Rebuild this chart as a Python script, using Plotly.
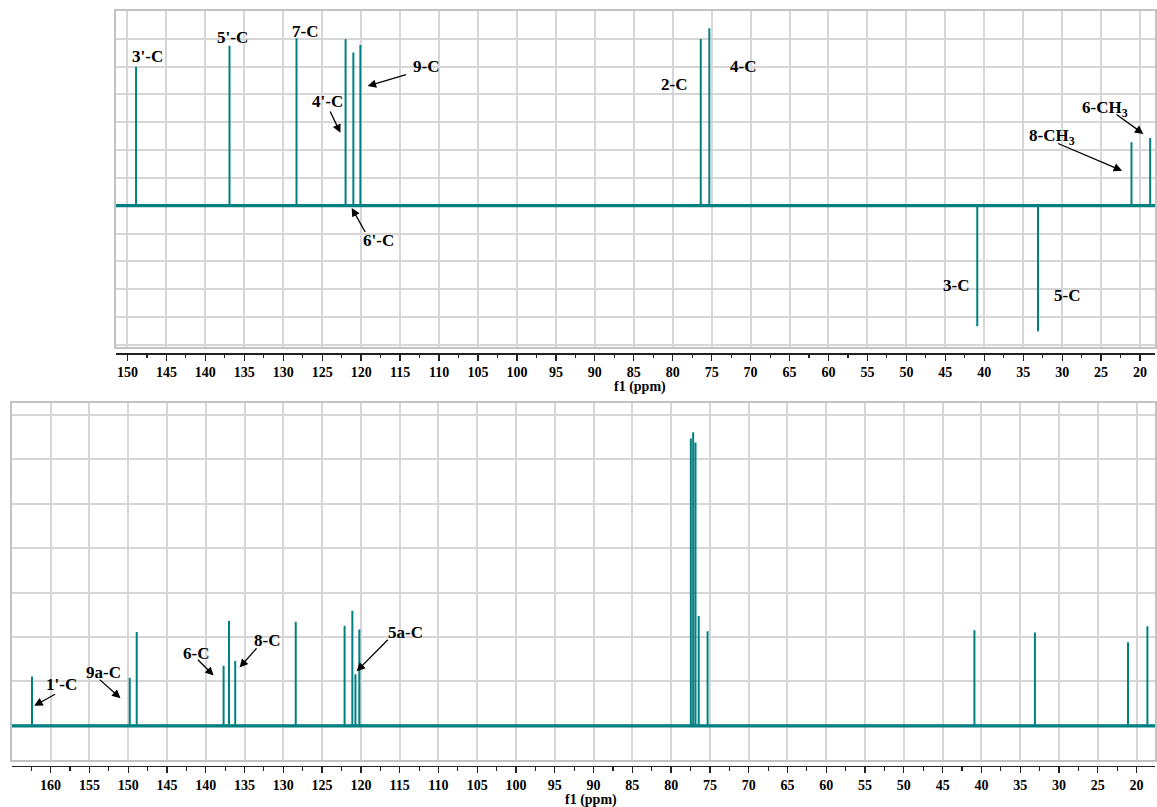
import plotly.graph_objects as go

# ---------------- data ----------------
# Top spectrum (DEPT-135): peak positions (ppm) and intensities (grid units)
dept_ppm = [148.9, 136.9, 128.3, 122.0, 121.0, 120.1, 76.4, 75.3, 40.9, 33.1, 21.1, 18.7]
dept_int = [5.00, 5.75, 6.02, 5.98, 5.51, 5.78, 5.99, 6.38, -4.33, -4.51, 2.28, 2.43]

# Bottom spectrum (13C): peak positions (ppm) and intensities (grid units)
c13_ppm = [162.4, 149.8, 148.9, 137.7, 137.0, 136.2, 128.4, 122.1, 121.1, 120.7, 120.2,
           77.46, 77.16, 76.86, 76.45, 75.3, 40.9, 33.1, 21.1, 18.6]
c13_int = [1.11, 1.08, 2.11, 1.35, 2.36, 1.46, 2.34, 2.25, 2.59, 1.16, 2.17,
           6.47, 6.61, 6.38, 2.47, 2.13, 2.15, 2.10, 1.88, 2.24]

# Tick labels
top_ticks = list(range(150, 19, -5))
bot_ticks = list(range(160, 19, -5))
top_minor = [t + 2.5 for t in range(150, 14, -5)]
bot_minor = [t + 2.5 for t in range(160, 14, -5)]

# Peak assignment labels: (text, label ppm, label y)
dept_labels = [("3'-C", 147.49, 5.36), ("5'-C", 136.47, 6.04), ("7-C", 127.21, 6.26),
               ("4'-C", 124.37, 3.76), ("9-C", 111.68, 5.0), ("6'-C", 117.79, -1.26),
               ("2-C", 79.81, 4.37), ("4-C", 70.93, 5.02),
               ("6-CH<sub>3</sub>", 24.48, 3.46), ("8-CH<sub>3</sub>", 31.33, 2.46),
               ("3-C", 43.64, -2.86), ("5-C", 29.35, -3.22)]
# Arrows: (tail ppm, tail y, head ppm, head y)
dept_arrows = [(124.07, 3.44, 122.66, 2.62), (114.04, 4.73, 119.16, 4.30),
               (119.37, -1.0, 121.21, -0.08), (23.21, 3.32, 19.57, 2.58),
               (30.72, 2.26, 22.30, 1.26)]

c13_labels = [("1'-C", 158.55, 0.94), ("9a-C", 153.23, 1.21), ("6-C", 141.30, 1.63),
              ("8-C", 132.12, 1.92), ("5a-C", 114.27, 2.11)]
c13_arrows = [(159.23, 0.73, 162.11, 0.45), (153.87, 1.07, 150.99, 0.62),
              (141.21, 1.52, 138.98, 1.13), (133.28, 1.78, 135.64, 1.31),
              (116.33, 1.97, 120.54, 1.23)]

# ---------------- helpers ----------------
TEAL = "#008080"
W, H = 1157, 807
FONT = "Liberation Serif"


def sticks(ppm, inten, left, right):
    xs, ys = [left], [0]
    for p, h in sorted(zip(ppm, inten), reverse=True):
        xs += [p, p, p]
        ys += [0, h, 0]
    xs.append(right)
    ys.append(0)
    return xs, ys


top_range = [151.5, 18.08]
bot_range = [165.02, 17.62]

fig = go.Figure()

# baselines (thicker to mimic noise band)
fig.add_trace(go.Scatter(x=top_range, y=[0, 0], mode="lines", xaxis="x", yaxis="y",
                         line=dict(color=TEAL, width=3.2), hoverinfo="skip", showlegend=False))
fig.add_trace(go.Scatter(x=bot_range, y=[0, 0], mode="lines", xaxis="x2", yaxis="y2",
                         line=dict(color=TEAL, width=3.2), hoverinfo="skip", showlegend=False))

tx, ty = sticks(dept_ppm, dept_int, top_range[0], top_range[1])
fig.add_trace(go.Scatter(x=tx, y=ty, mode="lines", xaxis="x", yaxis="y",
                         line=dict(color=TEAL, width=2), showlegend=False))
bx, by = sticks(c13_ppm, c13_int, bot_range[0], bot_range[1])
fig.add_trace(go.Scatter(x=bx, y=by, mode="lines", xaxis="x2", yaxis="y2",
                         line=dict(color=TEAL, width=2), showlegend=False))

# invisible traces so the offset tick axes are drawn
fig.add_trace(go.Scatter(x=[None], y=[None], xaxis="x3", yaxis="y", showlegend=False))
fig.add_trace(go.Scatter(x=[None], y=[None], xaxis="x4", yaxis="y2", showlegend=False))

GRID = "#d6d6d6"
BORDER = "#c2c2c2"

box_x = dict(showgrid=True, gridcolor=GRID, gridwidth=2, dtick=5, tick0=0,
             showline=True, mirror=True, linecolor=BORDER, linewidth=2,
             showticklabels=False, ticks="", zeroline=False, fixedrange=True)
box_y = dict(showgrid=True, gridcolor=GRID, gridwidth=2, dtick=1, tick0=0,
             showline=True, mirror=True, linecolor=BORDER, linewidth=2,
             showticklabels=False, ticks="", zeroline=False, fixedrange=True)

tick_axis = dict(showgrid=False, zeroline=False, showline=True, linecolor="#222222",
                 linewidth=1.5, ticks="outside", ticklen=6, tickwidth=1.3,
                 tickcolor="#222222",
                 tickfont=dict(family=FONT, size=14, color="black", weight="bold"),
                 anchor="free", fixedrange=True)
minor_style = dict(ticks="outside", ticklen=3.5, tickwidth=1.1, tickcolor="#222222",
                   showgrid=False, tickmode="array")

fig.update_layout(
    width=W, height=H, autosize=False,
    margin=dict(l=0, r=0, t=0, b=0),
    paper_bgcolor="white", plot_bgcolor="white",
    showlegend=False,
    xaxis=dict(box_x, domain=[116 / W, 1.0], range=top_range, anchor="y"),
    yaxis=dict(box_y, domain=[1 - 347 / H, 1 - 11 / H], range=[-5.08, 7.0], anchor="x"),
    xaxis2=dict(box_x, domain=[11.7 / W, 1.0], range=bot_range, anchor="y2"),
    yaxis2=dict(box_y, domain=[1 - 760 / H, 1 - 403.3 / H], range=[-0.77, 7.26], anchor="x2"),
    xaxis3=dict(tick_axis, overlaying="x", range=top_range, position=1 - 353 / H,
                tickmode="array", tickvals=top_ticks, ticktext=[str(t) for t in top_ticks],
                minor=dict(minor_style, tickvals=top_minor)),
    xaxis4=dict(tick_axis, overlaying="x2", range=bot_range, position=1 - 765.7 / H,
                tickmode="array", tickvals=bot_ticks, ticktext=[str(t) for t in bot_ticks],
                minor=dict(minor_style, tickvals=bot_minor)),
)

ann = []
lab_font = dict(family=FONT, size=17, color="black", weight="bold")
for text, x, y in dept_labels:
    ann.append(dict(text=text, x=x, y=y, xref="x", yref="y", showarrow=False,
                    font=lab_font, xanchor="center", yanchor="middle"))
for x0, y0, x1, y1 in dept_arrows:
    ann.append(dict(text="", x=x1, y=y1, ax=x0, ay=y0, xref="x", yref="y",
                    axref="x", ayref="y", showarrow=True, arrowhead=2, arrowsize=1.3,
                    arrowwidth=1.3, arrowcolor="black"))
for text, x, y in c13_labels:
    ann.append(dict(text=text, x=x, y=y, xref="x2", yref="y2", showarrow=False,
                    font=lab_font, xanchor="center", yanchor="middle"))
for x0, y0, x1, y1 in c13_arrows:
    ann.append(dict(text="", x=x1, y=y1, ax=x0, ay=y0, xref="x2", yref="y2",
                    axref="x2", ayref="y2", showarrow=True, arrowhead=2, arrowsize=1.3,
                    arrowwidth=1.3, arrowcolor="black"))

title_font = dict(family=FONT, size=14, color="black", weight="bold")
ann.append(dict(text="f1 (ppm)", x=641 / W, y=1 - 387 / H, xref="paper", yref="paper",
                showarrow=False, font=title_font, xanchor="center", yanchor="middle"))
ann.append(dict(text="f1 (ppm)", x=592 / W, y=1 - 800 / H, xref="paper", yref="paper",
                showarrow=False, font=title_font, xanchor="center", yanchor="middle"))

fig.update_layout(annotations=ann)

fig.write_html(
    "out.html",
    config={"displayModeBar": False, "staticPlot": True},
    post_script="document.body.style.margin='0';document.body.style.overflow='hidden';",
)
